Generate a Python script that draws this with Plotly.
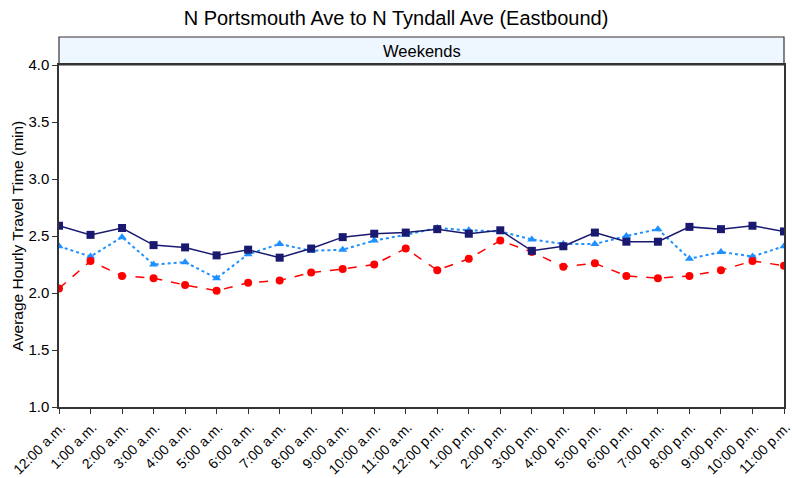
import plotly.graph_objects as go

hours = ["12:00 a.m.", "1:00 a.m.", "2:00 a.m.", "3:00 a.m.", "4:00 a.m.", "5:00 a.m.",
         "6:00 a.m.", "7:00 a.m.", "8:00 a.m.", "9:00 a.m.", "10:00 a.m.", "11:00 a.m.",
         "12:00 p.m.", "1:00 p.m.", "2:00 p.m.", "3:00 p.m.", "4:00 p.m.", "5:00 p.m.",
         "6:00 p.m.", "7:00 p.m.", "8:00 p.m.", "9:00 p.m.", "10:00 p.m.", "11:00 p.m."]

series_a = [2.59, 2.51, 2.57, 2.42, 2.40, 2.33, 2.38, 2.31, 2.39, 2.49, 2.52, 2.53,
            2.56, 2.52, 2.55, 2.37, 2.41, 2.53, 2.45, 2.45, 2.58, 2.56, 2.59, 2.54]
series_b = [2.41, 2.32, 2.49, 2.25, 2.27, 2.13, 2.34, 2.43, 2.37, 2.38, 2.46, 2.51,
            2.57, 2.55, 2.54, 2.47, 2.43, 2.43, 2.50, 2.56, 2.30, 2.36, 2.32, 2.41]
series_c = [2.04, 2.28, 2.15, 2.13, 2.07, 2.02, 2.09, 2.11, 2.18, 2.21, 2.25, 2.39,
            2.20, 2.30, 2.46, 2.36, 2.23, 2.26, 2.15, 2.13, 2.15, 2.20, 2.28, 2.24]

idx = list(range(len(hours)))

fig = go.Figure()
fig.add_trace(go.Scatter(
    x=idx, y=series_b, mode="lines+markers", name="Series B",
    line=dict(color="#1E90FF", width=2, dash="dot"),
    marker=dict(symbol="triangle-up", size=8, color="#1E90FF"),
))
fig.add_trace(go.Scatter(
    x=idx, y=series_c, mode="lines+markers", name="Series C",
    line=dict(color="#FF0000", width=1.5, dash="dash"),
    marker=dict(symbol="circle", size=8, color="#FF0000"),
))
fig.add_trace(go.Scatter(
    x=idx, y=series_a, mode="lines+markers", name="Series A",
    line=dict(color="#191970", width=1.5),
    marker=dict(symbol="square", size=8, color="#191970"),
))

font = "Liberation Sans, Arial, sans-serif"
strip_h = 28 / 342

fig.update_layout(
    width=792, height=478,
    margin=dict(l=59, r=8, t=65, b=71),
    paper_bgcolor="white", plot_bgcolor="white",
    showlegend=False,
    font=dict(family=font, size=15, color="black"),
    title=dict(text="N Portsmouth Ave to N Tyndall Ave (Eastbound)",
               x=0.5, xanchor="center", y=0.962, yanchor="middle",
               font=dict(family=font, size=20, color="black")),
    xaxis=dict(range=[0, 23], tickvals=idx, ticktext=hours, tickangle=-45,
               automargin=False, ticklabelshift=2, ticklabelstandoff=0,
               ticklabeloverflow="allow",
               showgrid=False, zeroline=False, showline=True, linecolor="#333",
               linewidth=1.5, mirror=True, ticks="outside", ticklen=5,
               tickcolor="#333", tickfont=dict(size=14)),
    yaxis=dict(range=[1, 4], tickvals=[1, 1.5, 2, 2.5, 3, 3.5, 4],
               ticktext=["1.0", "1.5", "2.0", "2.5", "3.0", "3.5", "4.0"],
               automargin=False,
               showgrid=False, zeroline=False, showline=True, linecolor="#333",
               linewidth=1.5, mirror=True, ticks="outside", ticklen=5,
               tickcolor="#333", tickfont=dict(size=15),
               title=dict(text="Average Hourly Travel Time (min)", standoff=1,
                          font=dict(size=15.5))),
    shapes=[dict(type="rect", xref="paper", yref="paper", x0=0, x1=1,
                 y0=1, y1=1 + strip_h, fillcolor="#EEF6FF",
                 line=dict(color="#333", width=1.2), layer="below")],
    annotations=[dict(text="Weekends", xref="paper", yref="paper", x=0.5,
                      y=1 + strip_h / 2, showarrow=False, xanchor="center",
                      yanchor="middle", font=dict(family=font, size=16.5, color="black"))],
)

fig.write_html("out.html")
